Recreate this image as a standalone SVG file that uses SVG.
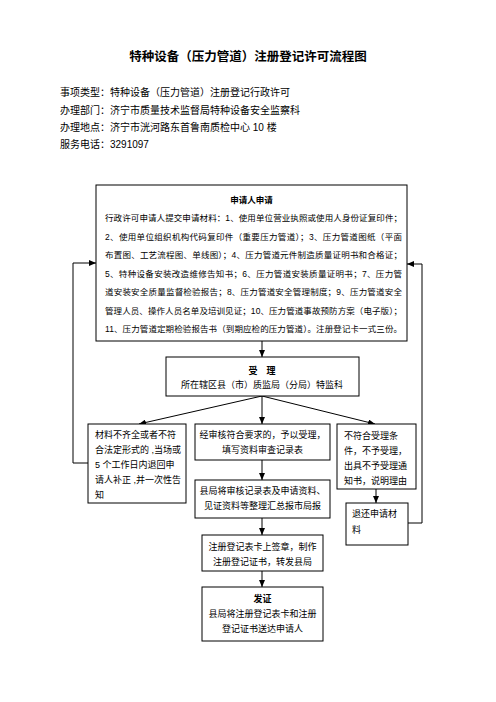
<svg xmlns="http://www.w3.org/2000/svg" width="496" height="702" viewBox="0 0 496 702">
<style>
text{font-family:"Liberation Sans","Noto Sans CJK SC",sans-serif;fill:#000}
.t{font-size:12.5px;font-weight:bold}
.h{font-size:10px}
.m{font-size:8.5px}
.s{font-size:9px}
.b{font-weight:bold}
.box{fill:#fff;stroke:#000;stroke-width:1}
.ln{fill:none;stroke:#000;stroke-width:1}
</style>
<defs>
<marker id="a" markerUnits="userSpaceOnUse" markerWidth="7" markerHeight="6" refX="7" refY="3" orient="auto"><path d="M0,0 L7,3 L0,6 z" fill="#000"/></marker>
</defs>
<rect width="496" height="702" fill="#fff"/>
<g id="header">
<text class="t" x="248" y="60.5" text-anchor="middle">特种设备（压力管道）注册登记许可流程图</text>
<text class="h" x="60" y="95.5">事项类型：特种设备（压力管道）注册登记行政许可</text>
<text class="h" x="60" y="113.5">办理部门：济宁市质量技术监督局特种设备安全监察科</text>
<text class="h" x="60" y="131">办理地点：济宁市洸河路东首鲁南质检中心 10 楼</text>
<text class="h" x="60" y="148">服务电话：3291097</text>
</g>
<g id="connectors">
<line class="ln" x1="262" y1="341" x2="262" y2="357" marker-end="url(#a)"/>
<line class="ln" x1="262" y1="396" x2="139" y2="424" marker-end="url(#a)"/>
<line class="ln" x1="262" y1="396" x2="262" y2="424" marker-end="url(#a)"/>
<line class="ln" x1="262" y1="396" x2="375" y2="424" marker-end="url(#a)"/>
<line class="ln" x1="262" y1="460" x2="262" y2="480" marker-end="url(#a)"/>
<line class="ln" x1="262" y1="518" x2="262" y2="535" marker-end="url(#a)"/>
<line class="ln" x1="262" y1="571" x2="262" y2="587" marker-end="url(#a)"/>
<line class="ln" x1="376" y1="489" x2="376" y2="503" marker-end="url(#a)"/>
<polyline class="ln" points="88,463 73,463 73,263 96,263" marker-end="url(#a)"/>
<polyline class="ln" points="408,523 422,523 422,264 407,264" marker-end="url(#a)"/>
</g>
<g id="apply">
<rect class="box" x="96" y="185" width="311" height="156"/>
<text class="m b" x="251.5" y="203" text-anchor="middle">申请人申请</text>
<text class="m" x="105" y="221" textLength="297" lengthAdjust="spacing">行政许可申请人提交申请材料：1、使用单位营业执照或使用人身份证复印件；</text>
<text class="m" x="105" y="239.5" textLength="297" lengthAdjust="spacing">2、使用单位组织机构代码复印件（重要压力管道）；3、压力管道图纸（平面</text>
<text class="m" x="105" y="258" textLength="297" lengthAdjust="spacing">布置图、工艺流程图、单线图）；4、压力管道元件制造质量证明书和合格证；</text>
<text class="m" x="105" y="276.5" textLength="297" lengthAdjust="spacing">5、特种设备安装改造维修告知书；6、压力管道安装质量证明书；7、压力管</text>
<text class="m" x="105" y="295" textLength="297" lengthAdjust="spacing">道安装安全质量监督检验报告；8、压力管道安全管理制度；9、压力管道安全</text>
<text class="m" x="105" y="313.5" textLength="297" lengthAdjust="spacing">管理人员、操作人员名单及培训见证；10、压力管道事故预防方案（电子版）；</text>
<text class="m" x="105" y="332" textLength="297" lengthAdjust="spacing">11、压力管道定期检验报告书（到期应检的压力管道）。注册登记卡一式三份。</text>
</g>
<g id="accept">
<rect class="box" x="166" y="357" width="193" height="39"/>
<text class="s b" x="262" y="374" text-anchor="middle">受　理</text>
<text class="s" x="262" y="387.5" text-anchor="middle">所在辖区县（市）质监局（分局）特监科</text>
</g>
<g id="incomplete">
<rect class="box" x="88" y="424" width="98" height="79"/>
<text class="s" x="95" y="438">材料不齐全或者不符</text>
<text class="s" x="95" y="453">合法定形式的 ,当场或</text>
<text class="s" x="95" y="468">5 个工作日内退回申</text>
<text class="s" x="95" y="483">请人补正 ,并一次性告</text>
<text class="s" x="95" y="498">知</text>
</g>
<g id="review">
<rect class="box" x="195" y="424" width="135" height="36"/>
<text class="s" x="262.5" y="438" text-anchor="middle">经审核符合要求的，予以受理，</text>
<text class="s" x="262.5" y="453" text-anchor="middle">填写资料审查记录表</text>
</g>
<g id="report">
<rect class="box" x="195" y="480" width="135" height="38"/>
<text class="s" x="262.5" y="494" text-anchor="middle">县局将审核记录表及申请资料、</text>
<text class="s" x="262.5" y="509" text-anchor="middle">见证资料等整理汇总报市局报</text>
</g>
<g id="reject">
<rect class="box" x="337" y="424" width="79" height="65"/>
<text class="s" x="344" y="438.5">不符合受理条</text>
<text class="s" x="344" y="453.5">件，不予受理，</text>
<text class="s" x="344" y="468.5">出具不予受理通</text>
<text class="s" x="344" y="483.5">知书，说明理由</text>
</g>
<g id="return">
<rect class="box" x="346" y="503" width="62" height="42"/>
<text class="s" x="352" y="517">退还申请材</text>
<text class="s" x="352" y="533">料</text>
</g>
<g id="sign">
<rect class="box" x="202" y="535" width="121" height="36"/>
<text class="s" x="262.5" y="550" text-anchor="middle">注册登记表卡上签章，制作</text>
<text class="s" x="262.5" y="565" text-anchor="middle">注册登记证书，转发县局</text>
</g>
<g id="issue">
<rect class="box" x="202" y="587" width="121" height="54"/>
<text class="s b" x="262.5" y="602" text-anchor="middle">发证</text>
<text class="s" x="262.5" y="617" text-anchor="middle">县局将注册登记表卡和注册</text>
<text class="s" x="262.5" y="632" text-anchor="middle">登记证书送达申请人</text>
</g>
</svg>
